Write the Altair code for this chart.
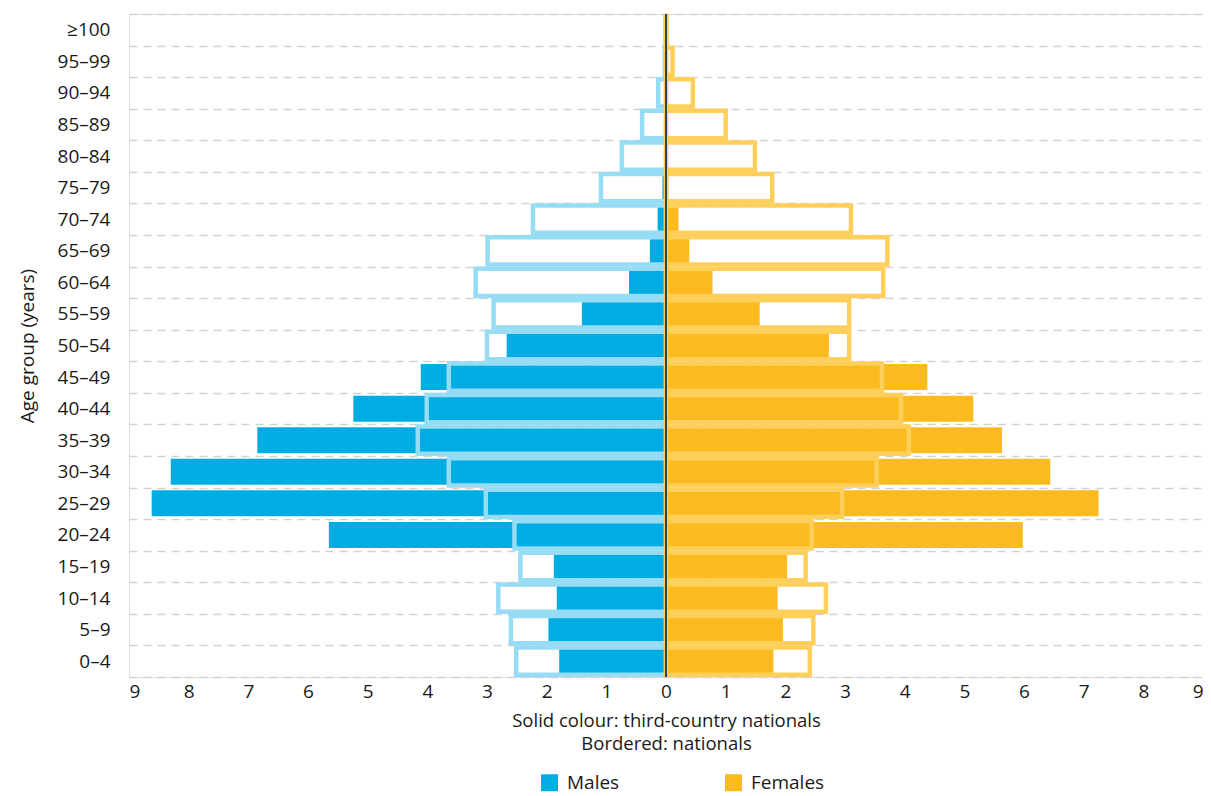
import altair as alt
import pandas as pd

ages = ["≥100", "95–99", "90–94", "85–89", "80–84", "75–79", "70–74", "65–69",
        "60–64", "55–59", "50–54", "45–49", "40–44", "35–39", "30–34", "25–29",
        "20–24", "15–19", "10–14", "5–9", "0–4"]

male_tcn = [0, 0, 0.005, 0.01, 0.02, 0.06, 0.14, 0.27, 0.62, 1.41, 2.67, 4.11,
            5.24, 6.85, 8.30, 8.62, 5.65, 1.88, 1.83, 1.97, 1.79]
male_nat = [0.01, 0.02, 0.13, 0.40, 0.74, 1.09, 2.23, 2.99, 3.19, 2.89, 3.00, 3.64,
            4.01, 4.16, 3.64, 3.02, 2.54, 2.44, 2.81, 2.60, 2.51]
female_tcn = [0, 0, 0.005, 0.01, 0.03, 0.04, 0.21, 0.39, 0.78, 1.57, 2.73, 4.38,
              5.15, 5.63, 6.44, 7.25, 5.98, 2.03, 1.87, 1.96, 1.80]
female_nat = [0.01, 0.11, 0.45, 1.00, 1.49, 1.78, 3.10, 3.71, 3.64, 3.07, 3.07, 3.62,
              3.94, 4.07, 3.53, 2.95, 2.44, 2.34, 2.68, 2.47, 2.41]

sexes = ["Males", "Females"]
solid_colors = ["#00ADE3", "#FBBA1F"]
border_colors = ["#95DCF4", "#FFCF5C"]
x_ticks = list(range(-9, 10))

rows = []
for i, a in enumerate(ages):
    rows.append({"age": a, "sex": "Males", "type": "tcn", "value": -male_tcn[i]})
    rows.append({"age": a, "sex": "Females", "type": "tcn", "value": female_tcn[i]})
    rows.append({"age": a, "sex": "Males", "type": "nat", "value": -male_nat[i]})
    rows.append({"age": a, "sex": "Females", "type": "nat", "value": female_nat[i]})
df = pd.DataFrame(rows)

FONT = "Open Sans"
TXT = "#1a1a1a"

y_enc = alt.Y(
    "age:N", sort=ages,
    scale=alt.Scale(paddingInner=0, paddingOuter=0),
    axis=alt.Axis(
        title="Age group (years)", titleFontSize=19, titleFontWeight="normal",
        titlePadding=20, titleColor=TXT, titleFont=FONT,
        labelFontSize=19, labelFont=FONT, labelColor=TXT, labelPadding=19,
        ticks=False, domain=False, grid=True, tickBand="extent",
        gridDash=[8, 6], gridColor="#d2d2d2", gridWidth=1.5,
    ),
)

x_enc = alt.X(
    "value:Q",
    scale=alt.Scale(domain=[-9, 9], nice=False, zero=False),
    stack=None,
    axis=alt.Axis(
        values=x_ticks, labelExpr="abs(datum.value)",
        title=["Solid colour: third-country nationals", "Bordered: nationals"],
        titleFontSize=18.5, titleFontWeight="normal", titleFont=FONT,
        titleColor=TXT, titleLineHeight=23, titlePadding=10,
        labelFontSize=19, labelFont=FONT, labelColor=TXT, labelPadding=5,
        ticks=False, domain=False, grid=False,
    ),
)

solid = alt.Chart(df).transform_filter(alt.datum.type == "tcn").mark_bar(size=26).encode(
    y=y_enc,
    x=x_enc,
    color=alt.Color(
        "sex:N",
        scale=alt.Scale(domain=sexes, range=solid_colors),
        legend=alt.Legend(
            title=None, orient="none", legendX=411, legendY=759,
            direction="horizontal", symbolType="square", symbolSize=289,
            symbolStrokeWidth=0, labelFontSize=19, labelFont=FONT,
            labelColor=TXT, labelOffset=8, columnPadding=104, padding=0,
        ),
    ),
)

bordered = alt.Chart(df).transform_filter(alt.datum.type == "nat").mark_bar(
    size=27.3, fillOpacity=0, strokeWidth=4.5
).encode(
    y=alt.Y("age:N", sort=ages),
    x=alt.X("value:Q", stack=None),
    stroke=alt.Stroke("sex:N", scale=alt.Scale(domain=sexes, range=border_colors), legend=None),
)

zero = alt.Chart(pd.DataFrame({"v": [0]})).mark_rule(color="#2a4756", strokeWidth=2).encode(
    x=alt.X("v:Q")
)

chart = alt.layer(solid, bordered, zero).properties(
    width=1074, height=663,
    padding={"left": 121, "top": 6, "right": 0, "bottom": 119},
    autosize=alt.AutoSizeParams(type="none"),
).configure_view(strokeWidth=0).configure(background="white")

chart.save("out.html", embed_options={"renderer": "svg", "actions": False})
